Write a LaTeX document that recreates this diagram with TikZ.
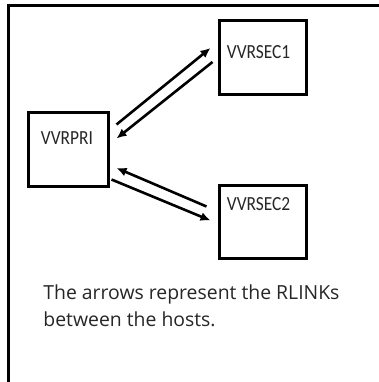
\documentclass[tikz,border=0pt]{standalone}
\usepackage{fontspec}
\setmainfont{Open Sans}
\newfontfamily\hostfont[FakeStretch=0.87]{Carlito}
\usetikzlibrary{calc, arrows.meta}

\begin{document}
\begin{tikzpicture}[x=1pt, y=-1pt, thick,
  host/.style={draw, line width=3pt, minimum width=87pt, minimum height=74pt, inner sep=0pt},
  hostname/.style={anchor=base west, inner sep=0pt, font=\hostfont\fontsize{20}{24}\selectfont, text=black!85},
  rlink/.style={line width=2.6pt, -{Latex[length=10pt, width=9pt]}}]
  \useasboundingbox (0,0) rectangle (378,382);
  % outer frame, only top and left edges are inside the page
  \draw[line width=3pt] (8,400) -- (8,5.5) -- (400,5.5);
  % the three hosts
  \node[host, minimum width=80pt, minimum height=73pt] (pri) at (68,149.5) {};
  \node[host] (sec1) at (262.5,57.5) {};
  \node[host, minimum height=73pt] (sec2) at (262.5,221.5) {};
  \node[hostname] (prilbl) at ($(pri.north west)+(14,33)$) {VVRPRI};
  \node[hostname] (sec1lbl) at ($(sec1.north west)+(9,40)$) {VVRSEC1};
  \node[hostname] (sec2lbl) at ($(sec2.north west)+(9,27)$) {VVRSEC2};
  % RLINKs
  \draw[rlink] ($(pri.north east)+(7,13)$) -- ($(sec1.north west)+(-7,29)$);
  \draw[rlink] ($(sec1.north west)+(-5,43)$) -- ($(pri.north east)+(7,27)$);
  \draw[rlink] ($(sec2.north west)+(-11,23)$) -- ($(pri.east)+(7,18.5)$);
  \draw[rlink] ($(pri.south east)+(2,-8)$) -- ($(sec2.north west)+(-7,37)$);
  \node[anchor=north west, align=left, inner sep=0pt, font=\fontsize{19.4}{27}\selectfont, text=black!85] (note) at (43,284)
    {The arrows represent the RLINKs\\between the hosts.};
\end{tikzpicture}
\end{document}
